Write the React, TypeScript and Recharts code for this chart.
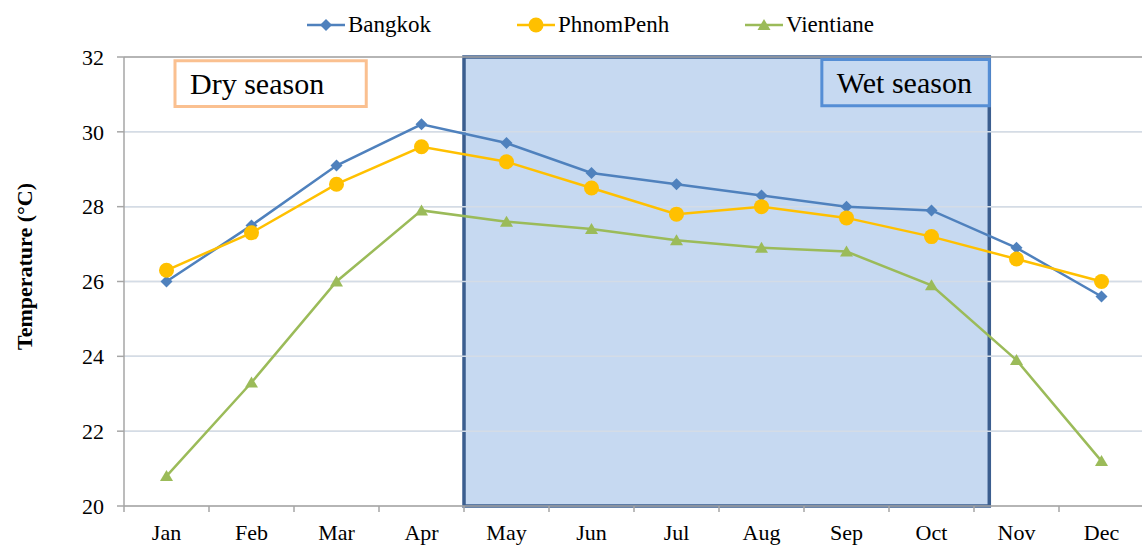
import React from 'react';
import { LineChart, Line, XAxis, YAxis, CartesianGrid, ReferenceArea, ReferenceLine } from 'recharts';

const months = ['Jan', 'Feb', 'Mar', 'Apr', 'May', 'Jun', 'Jul', 'Aug', 'Sep', 'Oct', 'Nov', 'Dec'];
const bangkok = [26.0, 27.5, 29.1, 30.2, 29.7, 28.9, 28.6, 28.3, 28.0, 27.9, 26.9, 25.6];
const phnomPenh = [26.3, 27.3, 28.6, 29.6, 29.2, 28.5, 27.8, 28.0, 27.7, 27.2, 26.6, 26.0];
const vientiane = [20.8, 23.3, 26.0, 27.9, 27.6, 27.4, 27.1, 26.9, 26.8, 25.9, 23.9, 21.2];
const yTicks = [20, 22, 24, 26, 28, 30, 32];

// x positions: category i sits at i + 0.5 on a 0..12 scale
const boundaryTicks = [0, 1, 2, 3, 4, 5, 6, 7, 8, 9, 10, 11, 12];
const centerTicks = months.map((_, i) => i + 0.5);

// annotation boxes (data units)
const wetSeason = { x1: 4, x2: 10.18, y1: 20, y2: 32 };
const wetLabel = { x1: 8.21, x2: 10.18, y1: 30.7, y2: 31.93 };
const dryLabel = { x1: 0.6, x2: 2.85, y1: 30.68, y2: 31.9 };

const FONT = '"Liberation Serif", "Times New Roman", serif';

const COLORS = {
  Bangkok: '#4F81BD',
  PhnomPenh: '#FFC000',
  Vientiane: '#9BBB59',
};

const data = months.map((m, i) => ({
  x: i + 0.5,
  month: m,
  Bangkok: bangkok[i],
  PhnomPenh: phnomPenh[i],
  Vientiane: vientiane[i],
}));

const Diamond = (props: any) => {
  const { cx, cy, fill } = props;
  if (cx == null || cy == null) return null;
  return <path d={`M${cx},${cy - 6}L${cx + 6},${cy}L${cx},${cy + 6}L${cx - 6},${cy}Z`} fill={fill} />;
};

const Circle = (props: any) => {
  const { cx, cy, fill } = props;
  if (cx == null || cy == null) return null;
  return <circle cx={cx} cy={cy} r={7.5} fill={fill} />;
};

const Triangle = (props: any) => {
  const { cx, cy, fill } = props;
  if (cx == null || cy == null) return null;
  return <path d={`M${cx},${cy - 6}L${cx + 6.5},${cy + 5}L${cx - 6.5},${cy + 5}Z`} fill={fill} />;
};

const YLabel = (props: any) => {
  const vb = props.viewBox || { x: 0, y: 57, width: 124, height: 449 };
  const x = vb.x + 32;
  const y = vb.y + vb.height / 2 - 15;
  return (
    <text
      x={x}
      y={y}
      transform={`rotate(-90, ${x}, ${y})`}
      textAnchor="middle"
      fontFamily={FONT}
      fontWeight="bold"
      fontSize={22}
      fill="#000"
    >
      Temperature (°C)
    </text>
  );
};

const legendItems = [
  { name: 'Bangkok', color: COLORS.Bangkok, Marker: Diamond, left: 307 },
  { name: 'PhnomPenh', color: COLORS.PhnomPenh, Marker: Circle, left: 517 },
  { name: 'Vientiane', color: COLORS.Vientiane, Marker: Triangle, left: 745 },
];

const App: React.FC = () => {
  return (
    <div
      style={{
        width: 1142,
        height: 545,
        overflow: 'hidden',
        position: 'relative',
        background: '#fff',
        fontFamily: FONT,
      }}
    >
      <style>{`body { margin: 0; }`}</style>
      <LineChart width={1150} height={545} data={data} margin={{ top: 57, right: 6, bottom: 0, left: 0 }}>
        <CartesianGrid vertical={false} stroke="#D9D9D9" strokeWidth={1.5} />
        <ReferenceArea
          xAxisId="grid"
          x1={wetSeason.x1}
          x2={wetSeason.x2}
          y1={wetSeason.y1}
          y2={wetSeason.y2}
          fill="#C6D9F1"
          fillOpacity={1}
          stroke="#3B5E8F"
          strokeWidth={3.5}
        />
        {yTicks.slice(1, -1).map((t) => (
          <ReferenceLine key={t} y={t} xAxisId="grid" stroke="#D4DCE6" strokeWidth={1.5} />
        ))}
        <ReferenceLine y={32} xAxisId="grid" stroke="#A6A6A6" strokeWidth={1.5} />
        <ReferenceArea
          xAxisId="grid"
          x1={wetLabel.x1}
          x2={wetLabel.x2}
          y1={wetLabel.y1}
          y2={wetLabel.y2}
          fill="#C6D9F1"
          fillOpacity={1}
          stroke="#558ED5"
          strokeWidth={3}
          label={{ value: 'Wet season', position: 'insideLeft', offset: 15, fontSize: 30, fill: '#000', fontFamily: FONT }}
        />
        <ReferenceArea
          xAxisId="grid"
          x1={dryLabel.x1}
          x2={dryLabel.x2}
          y1={dryLabel.y1}
          y2={dryLabel.y2}
          fill="#fff"
          fillOpacity={1}
          stroke="#FAC090"
          strokeWidth={3}
          label={{ value: 'Dry season', position: 'insideLeft', offset: 15, fontSize: 30, fill: '#000', fontFamily: FONT }}
        />
        <XAxis
          xAxisId="grid"
          type="number"
          dataKey="x"
          domain={[0, 12]}
          ticks={boundaryTicks}
          tickFormatter={() => ''}
          height={7}
          tickSize={6}
          stroke="#A6A6A6"
          strokeWidth={1.5}
          allowDataOverflow
        />
        <XAxis
          xAxisId="lbl"
          type="number"
          dataKey="x"
          domain={[0, 12]}
          ticks={centerTicks}
          tickFormatter={(v: number) => months[Math.round(v - 0.5)]}
          axisLine={false}
          tickLine={false}
          tickSize={0}
          tickMargin={11}
          height={32}
          tick={{ fill: '#000', fontSize: 22, fontFamily: FONT }}
          allowDataOverflow
        />
        <YAxis
          type="number"
          domain={[20, 32]}
          ticks={yTicks}
          width={124}
          tickSize={7}
          tickMargin={13}
          stroke="#A6A6A6"
          strokeWidth={1.5}
          tick={{ fill: '#000', fontSize: 22, fontFamily: FONT }}
          label={<YLabel />}
        />
        <Line
          xAxisId="grid"
          dataKey="Bangkok"
          stroke={COLORS.Bangkok}
          strokeWidth={2.5}
          dot={<Diamond fill={COLORS.Bangkok} />}
          isAnimationActive={false}
        />
        <Line
          xAxisId="grid"
          dataKey="PhnomPenh"
          stroke={COLORS.PhnomPenh}
          strokeWidth={2.5}
          dot={<Circle fill={COLORS.PhnomPenh} />}
          isAnimationActive={false}
        />
        <Line
          xAxisId="grid"
          dataKey="Vientiane"
          stroke={COLORS.Vientiane}
          strokeWidth={2.5}
          dot={<Triangle fill={COLORS.Vientiane} />}
          isAnimationActive={false}
        />
      </LineChart>
      {legendItems.map(({ name, color, Marker, left }) => (
        <div
          key={name}
          style={{
            position: 'absolute',
            top: 12,
            left,
            display: 'flex',
            alignItems: 'center',
            fontSize: 23,
            lineHeight: '26px',
          }}
        >
          <svg width={38} height={16} style={{ marginRight: 3 }}>
            <line x1={0} y1={8} x2={38} y2={8} stroke={color} strokeWidth={2.5} />
            <Marker cx={19} cy={8} fill={color} />
          </svg>
          <span>{name}</span>
        </div>
      ))}
    </div>
  );
};

export default App;
